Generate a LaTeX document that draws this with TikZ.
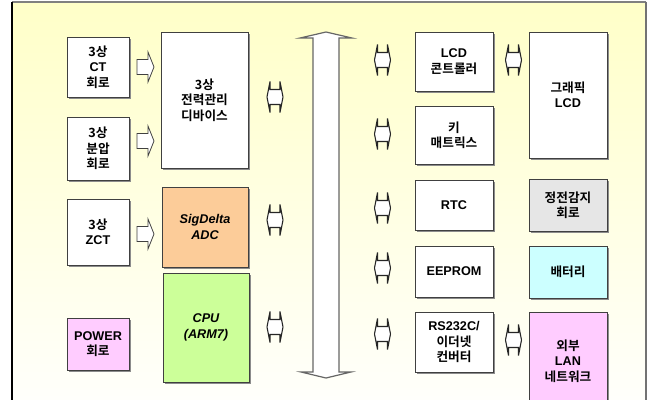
\documentclass[tikz,border=0pt]{standalone}
\usepackage{fontspec}
\setmainfont{Liberation Sans}
\newfontfamily\kofont{Noto Sans CJK KR}[BoldFont={Noto Sans CJK KR Bold}]
\usepackage{tikz}
\usetikzlibrary{shadows,calc}
\definecolor{panelYellow}{RGB}{255,255,200}
\definecolor{adcOrange}{RGB}{252,204,153}
\definecolor{cpuGreen}{RGB}{204,255,153}
\definecolor{powerPink}{RGB}{255,204,255}
\definecolor{batteryCyan}{RGB}{204,255,255}
\definecolor{senseGray}{RGB}{230,230,230}
\newcommand{\ko}[1]{{\kofont #1}}
\tikzset{
  blk/.style={draw=black!75, line width=0.7pt, fill=white, align=center, inner sep=0pt,
    font=\bfseries\fontsize{9.5}{11.6}\selectfont,
    drop shadow={shadow xshift=1.5pt, shadow yshift=-1.5pt, fill=black!45, opacity=1}},
  sz/.style 2 args={minimum width=#1*0.75pt, minimum height=#2*0.75pt},
  rarr/.pic={\draw[black!75, fill=white, line width=0.6pt]
    (-8.5,-7.5) -- (2.5,-7.5) -- (2.5,-15) -- (8.5,0) -- (2.5,15) -- (2.5,7.5) -- (-8.5,7.5) -- cycle;},
  dblarr/.pic={\draw[black!85, fill=white, line width=0.8pt]
    (-8,0) -- (-5,-15.5) -- (-5,-7.5) -- (5,-7.5) -- (5,-15.5) -- (8,0)
    -- (5,15.5) -- (5,7.5) -- (-5,7.5) -- (-5,15.5) -- cycle;}
}

\begin{document}
\begin{tikzpicture}[x=0.75pt, y=-0.75pt]
        \useasboundingbox (0,0) rectangle (651,400);
        \clip (0,0) rectangle (651,400);
        % Panel
        \fill[top color=panelYellow, bottom color=white] (12,2) rectangle (646,430);
        \draw[black!50, line width=1pt] (12,2) -- (646,2);
        \draw[black, line width=1.5pt] (12,1.5) -- (12,400);
        \draw[black!55, line width=1.5pt] (646,1.5) -- (646,400);
        % Inputs
        \node[blk, sz={62}{60}] (ct) at (98,67) {\ko{3상}\\CT\\\ko{회로}};
        \node[blk, sz={62}{63}] (volt) at (98,148.5) {\ko{3상}\\\ko{분압}\\\ko{회로}};
        \node[blk, sz={62}{66}] (zct) at (98,232) {\ko{3상}\\ZCT};
        \node[blk, sz={62}{52}, fill=powerPink] (power) at (98,344) {POWER\\\ko{회로}};
        % Core
        \node[blk, sz={87}{136}] (meter) at (204.5,100) {\ko{3상}\\\ko{전력관리}\\\ko{디바이스}};
        \node[blk, sz={86}{80}, fill=adcOrange, font=\bfseries\itshape\fontsize{9.5}{11.6}\selectfont] (adc) at (205,227) {SigDelta\\ADC};
        \node[blk, sz={86}{109}, fill=cpuGreen, font=\bfseries\itshape\fontsize{9.5}{11.6}\selectfont] (cpu) at (206,327.5) {CPU\\(ARM7)};
        \pic at (145.5,67) {rarr};
        \pic at (145.5,141) {rarr};
        \pic at (145.5,234) {rarr};
        % Bus
        \draw[fill=white, draw=black!60, line width=0.9pt] (326,32) -- (352,38) -- (339,38) -- (339,372) -- (351,372)
          -- (326,378) -- (301,372) -- (313,372) -- (313,38) -- (300,38) -- cycle;
        \pic at (275,97) {dblarr};
        \pic at (275,220) {dblarr};
        \pic at (275,327) {dblarr};
        % Peripherals
        \node[blk, sz={78}{59}] (lcdc) at (454,61.5) {LCD\\\ko{콘트롤러}};
        \node[blk, sz={78}{58}] (keys) at (454,135) {\ko{키}\\\ko{매트릭스}};
        \node[blk, sz={78}{50}] (rtc) at (454,205) {RTC};
        \node[blk, sz={78}{51}] (eeprom) at (454,271.5) {EEPROM};
        \node[blk, sz={78}{60}] (conv) at (454,342) {RS232C/\\\ko{이더넷}\\\ko{컨버터}};
        \pic at (382.5,60) {dblarr};
        \pic at (382.5,134) {dblarr};
        \pic at (382.5,208) {dblarr};
        \pic at (382.5,268) {dblarr};
        \pic at (382.5,334) {dblarr};
        % Outside
        \node[blk, sz={78}{126}] (glcd) at (568,95) {\ko{그래픽}\\LCD};
        \node[blk, sz={78}{52}, fill=senseGray] (sense) at (568,205) {\ko{정전감지}\\\ko{회로}};
        \node[blk, sz={78}{52}, fill=batteryCyan] (bat) at (568,272) {\ko{배터리}};
        \node[blk, sz={78}{98}, fill=powerPink] (lan) at (568,361) {\ko{외부}\\LAN\\\ko{네트워크}};
        \pic at (513.5,60) {dblarr};
        \pic at (513.5,340) {dblarr};
      \end{tikzpicture}
\end{document}
